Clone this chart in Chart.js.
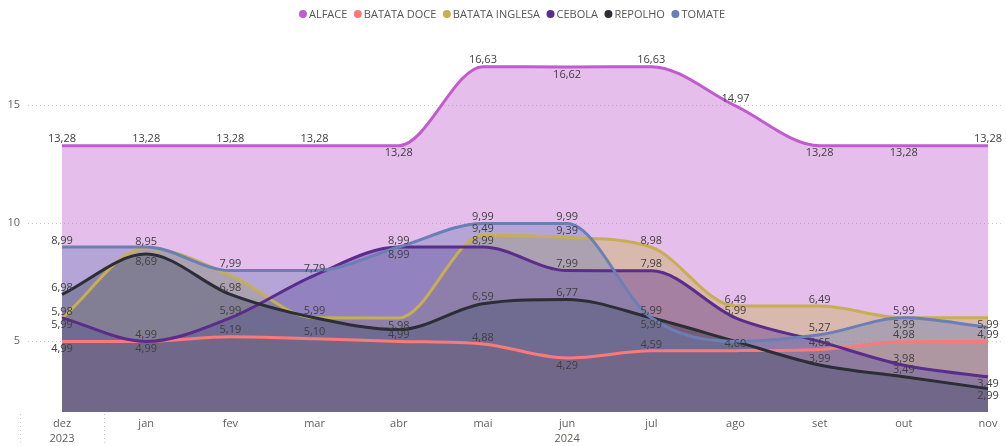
<!DOCTYPE html>
<html>
<head>
<meta charset="utf-8">
<script src="https://cdn.jsdelivr.net/npm/chart.js@4.4.1/dist/chart.umd.min.js"></script>
<style>
  html, body { margin: 0; padding: 0; background: #fff; }
  #wrap { width: 1006px; height: 446px; }
</style>
</head>
<body>
<div id="wrap"><canvas id="myChart" width="1006" height="446"></canvas></div>
<script>
// categories
const months = ['dez', 'jan', 'fev', 'mar', 'abr', 'mai', 'jun', 'jul', 'ago', 'set', 'out', 'nov'];
const years = ['2023', '2024'];
const yTicks = [5, 10, 15];

// series values (R$)
const alface        = [13.28, 13.28, 13.28, 13.28, 13.28, 16.63, 16.62, 16.63, 14.97, 13.28, 13.28, 13.28];
const batataDoce    = [4.99, 4.99, 5.19, 5.10, 4.99, 4.88, 4.29, 4.59, 4.60, 4.65, 4.98, 4.99];
const batataInglesa = [5.98, 8.95, 7.79, 5.99, 5.98, 9.49, 9.39, 8.98, 6.49, 6.49, 5.99, 5.99];
const cebola        = [5.99, 4.99, 5.99, 7.79, 8.99, 8.99, 7.99, 7.98, 5.99, 4.99, 3.98, 3.49];
const repolho       = [6.98, 8.69, 6.98, 5.99, 5.49, 6.59, 6.77, 5.99, 4.99, 3.99, 3.49, 2.99];
const tomate        = [8.99, 8.99, 7.99, 7.99, 8.99, 9.99, 9.99, 5.99, 4.99, 5.27, 5.99, 5.59];

// label placement like the report: A = above, B = below, - = hidden (overlap)
const labelSpots = {
    'ALFACE':         'AAAABABAABBA',
    'BATATA DOCE':    'BBAAAABAAAAA',
    'BATATA INGLESA': 'AA-ABAAAAAAB',
    'CEBOLA':         'BAAAAAAAA-AB',
    'REPOLHO':        'ABA--AAA-AAB',
    'TOMATE':         'A-A-BAAB-AB-'
};

const series = [
    { label: 'ALFACE',         values: alface,        color: [192, 92, 205] },
    { label: 'BATATA DOCE',    values: batataDoce,    color: [250, 122, 122] },
    { label: 'BATATA INGLESA', values: batataInglesa, color: [198, 174, 82] },
    { label: 'CEBOLA',         values: cebola,        color: [90, 45, 140] },
    { label: 'REPOLHO',        values: repolho,       color: [44, 46, 54] },
    { label: 'TOMATE',         values: tomate,        color: [106, 127, 182] }
];

const rgb = (c, a) => a === undefined ? `rgb(${c.join(',')})` : `rgba(${c.join(',')},${a})`;
const fmt = v => v.toFixed(2).replace('.', ',');
const FONT = '"Open Sans", "Noto Sans", sans-serif';

const datasets = series.map((s, i) => ({
    label: s.label,
    data: s.values.map((v, k) => ({ x: k, y: v })),
    borderColor: rgb(s.color),
    backgroundColor: rgb(s.color, 0.4),
    borderWidth: 3,
    fill: 'start',
    cubicInterpolationMode: 'monotone',
    pointRadius: 0,
    pointHoverRadius: 0,
    order: series.length - 1 - i
}));

const overlay = {
    id: 'overlay',
    afterDatasetsDraw(chart) {
        const ctx = chart.ctx;
        ctx.save();
        ctx.font = '11px ' + FONT;
        ctx.fillStyle = '#404040';
        ctx.textAlign = 'center';
        ctx.textBaseline = 'middle';
        chart.data.datasets.forEach((ds, di) => {
            const spots = labelSpots[ds.label];
            chart.getDatasetMeta(di).data.forEach((pt, i) => {
                const s = spots[i];
                if (s === '-') return;
                const y = s === 'A' ? pt.y - 6.5 : pt.y + 7.5;
                ctx.fillText(fmt(ds.data[i].y), pt.x, y);
            });
        });
        ctx.restore();
    },
    afterDraw(chart) {
        const ctx = chart.ctx;
        const xs = chart.scales.x;
        ctx.save();
        // year row + separators
        ctx.font = '11px ' + FONT;
        ctx.fillStyle = '#605E5C';
        ctx.textAlign = 'center';
        ctx.textBaseline = 'middle';
        ctx.fillText(years[0], xs.getPixelForValue(0), 439);
        ctx.fillText(years[1], (xs.getPixelForValue(1) + xs.getPixelForValue(months.length - 1)) / 2, 439);
        ctx.strokeStyle = '#c8c8c8';
        ctx.lineWidth = 1;
        ctx.setLineDash([1, 3]);
        [-0.5, 0.5].forEach(v => {
            const x = Math.round(xs.getPixelForValue(v)) + 0.5;
            ctx.beginPath();
            ctx.moveTo(x, chart.chartArea.bottom + 2);
            ctx.lineTo(x, 446);
            ctx.stroke();
        });
        ctx.setLineDash([]);
        // legend
        ctx.font = '11px ' + FONT;
        ctx.textAlign = 'left';
        const widths = series.map(s => 8 + 2 + ctx.measureText(s.label).width);
        const total = widths.reduce((a, b) => a + b, 0) + 6.5 * (series.length - 1);
        let x = 512 - total / 2;
        series.forEach((s, i) => {
            ctx.fillStyle = rgb(s.color);
            ctx.beginPath();
            ctx.arc(x + 4, 14, 4, 0, Math.PI * 2);
            ctx.fill();
            ctx.fillStyle = '#555555';
            ctx.fillText(s.label, x + 10, 14.5);
            x += widths[i] + 6.5;
        });
        ctx.restore();
    }
};

const ctx = document.getElementById('myChart');
const myChart = new Chart(ctx, {
    type: 'line',
    data: { datasets: datasets },
    options: {
        responsive: false,
        animation: false,
        events: [],
        layout: { padding: { top: 40, right: 3, bottom: 0, left: 0 } },
        plugins: {
            legend: { display: false },
            title: { display: false },
            tooltip: { enabled: false },
            filler: { drawTime: 'beforeDatasetsDraw' }
        },
        scales: {
            x: {
                type: 'linear',
                min: -0.404,
                max: 11.178,
                afterFit: s => { s.height = 34; },
                afterBuildTicks: s => { s.ticks = months.map((m, i) => ({ value: i })); },
                grid: { display: false, drawTicks: false },
                border: { display: false },
                ticks: {
                    padding: 5,
                    autoSkip: false,
                    maxRotation: 0,
                    color: '#605E5C',
                    font: { family: FONT, size: 11 },
                    callback: v => months[v]
                }
            },
            y: {
                min: 2,
                max: 17.76,
                afterFit: s => { s.width = 28; },
                afterBuildTicks: s => { s.ticks = yTicks.map(v => ({ value: v })); },
                border: { display: false, dash: [1, 3] },
                grid: {
                    color: '#c8c8c8',
                    lineWidth: 1,
                    drawTicks: false
                },
                ticks: {
                    padding: 8,
                    color: '#605E5C',
                    font: { family: FONT, size: 11 }
                }
            }
        }
    },
    plugins: [overlay]
});
</script>
</body>
</html>
